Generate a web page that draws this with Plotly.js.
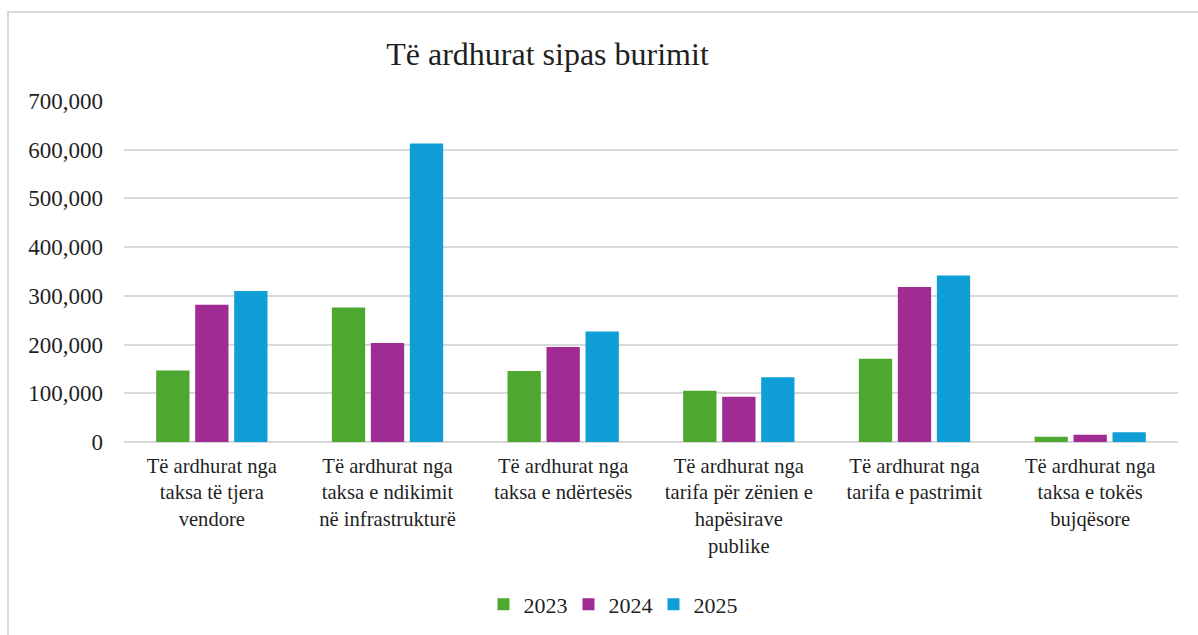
<!DOCTYPE html>
<html>
<head>
<meta charset="utf-8">
<script src="https://cdn.plot.ly/plotly-3.0.1.min.js"></script>
<style>
  html, body { margin: 0; padding: 0; background: #fff; overflow: hidden; }
  #wrap { position: relative; width: 1198px; height: 635px; overflow: hidden; }
  #frame {
    position: absolute; left: 7px; top: 11px; width: 1300px; height: 700px;
    border-left: 2px solid #d9d9d9; border-top: 2px solid #d9d9d9;
    pointer-events: none;
  }
  #chart { position: absolute; left: 0; top: 0; width: 1198px; height: 635px; }
</style>
</head>
<body>
<div id="wrap">
  <div id="chart"></div>
  <div id="frame"></div>
</div>
<script>
/* Të ardhurat sipas burimit — të dhënat e lexuara nga grafiku */
const categories = [
  "Të ardhurat nga<br>taksa të tjera<br>vendore",
  "Të ardhurat nga<br>taksa e ndikimit<br>në infrastrukturë",
  "Të ardhurat nga<br>taksa e ndërtesës",
  "Të ardhurat nga<br>tarifa për zënien e<br>hapësirave<br>publike",
  "Të ardhurat nga<br>tarifa e pastrimit",
  "Të ardhurat nga<br>taksa e tokës<br>bujqësore",
];
const years = ["2023", "2024", "2025"];
const v2023 = [147000, 276000, 146000, 105000, 171000, 11000];
const v2024 = [282000, 203000, 195000, 93000, 318000, 15000];
const v2025 = [310000, 613000, 227000, 133000, 342000, 20000];
const yTicks = [0, 100000, 200000, 300000, 400000, 500000, 600000, 700000];

const colors = ["#4ea72e", "#a02b93", "#0f9ed5"];
const FONT = "Liberation Serif";
const INK = "#1f1f1f";
const GRID = "#d9d9d9";

const traces = [v2023, v2024, v2025].map((vals, i) => ({
  type: "bar",
  name: years[i],
  x: categories,
  y: vals,
  marker: { color: colors[i] },
}));

const layout = {
  width: 1198,
  height: 635,
  paper_bgcolor: "rgba(0,0,0,0)",
  plot_bgcolor: "rgba(0,0,0,0)",
  font: { family: FONT, color: INK, size: 21 },
  margin: { l: 124, r: 20, t: 101, b: 193, pad: 0 },
  title: {
    text: "Të ardhurat sipas burimit",
    font: { family: FONT, size: 32, color: INK },
    xref: "container", x: 0.457, xanchor: "center",
    yref: "container", y: 0.915, yanchor: "middle",
  },
  barmode: "group",
  bargap: 0.334,
  bargroupgap: 0.146,
  xaxis: {
    type: "category",
    tickfont: { family: FONT, size: 20.6, color: INK },
    ticks: "",
    showgrid: false,
    showline: false,
    zeroline: false,
    automargin: false,
    ticklabelstandoff: 9,
  },
  yaxis: {
    range: [0, 700000],
    tickvals: yTicks,
    tickformat: ",",
    tickfont: { family: FONT, size: 23, color: INK },
    ticks: "",
    showgrid: true,
    gridcolor: GRID,
    gridwidth: 1.5,
    zeroline: true,
    zerolinecolor: GRID,
    zerolinewidth: 1.5,
    showline: false,
    automargin: false,
    ticklabelstandoff: 20,
  },
  legend: {
    orientation: "h",
    x: 0.51, xref: "container", xanchor: "center",
    y: 0.048, yref: "container", yanchor: "middle",
    font: { family: FONT, size: 22, color: INK },
    entrywidth: 40,
    traceorder: "normal",
  },
};

Plotly.newPlot("chart", traces, layout, { displayModeBar: false });
</script>
</body>
</html>
